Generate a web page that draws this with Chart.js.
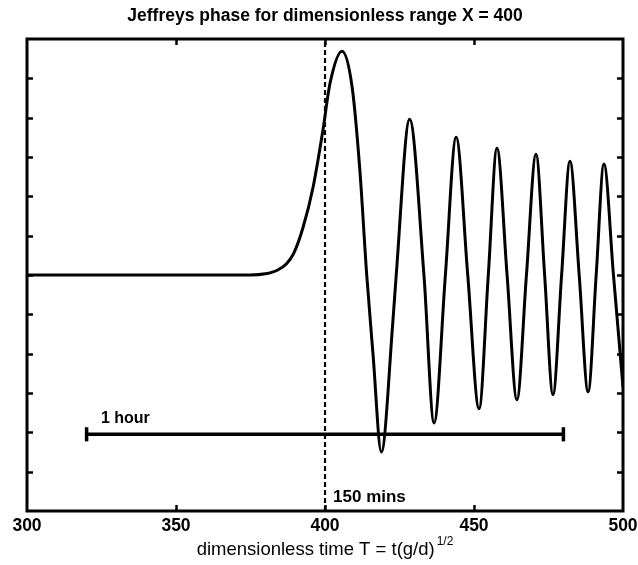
<!DOCTYPE html>
<html>
<head>
<meta charset="utf-8">
<script src="https://cdn.jsdelivr.net/npm/chart.js@4/dist/chart.umd.min.js"></script>
<style>
html,body{margin:0;padding:0;background:#fff;}
#c{display:block;}
</style>
</head>
<body>
<canvas id="c" width="638" height="565"></canvas>
<script>
// ---- data ----
const titleText = "Jeffreys phase for dimensionless range X = 400";
const xAxisText = "dimensionless time T = t(g/d)";
const xAxisSup = "1/2";
const xTickLabels = [300, 350, 400, 450, 500];
const yTickValues = [-5, -4, -3, -2, -1, 0, 1, 2, 3, 4, 5];
const innerXTicks = [350, 400, 450];

// dimensionless time T and phase (arbitrary units, tick spacing = 1)
const timeT = [300, 375, 380, 384, 387, 389.5, 392.6, 396, 399.3, 401.7, 405.7, 409.1, 411.7, 414.0,
  416.1, 418.9, 422.8, 423.9, 428.4, 433.2, 436.6, 440.4, 444.0, 447.9, 451.7,
  454.8, 457.7, 461.1, 464.4, 467.6, 470.8, 473.7, 476.5, 479.4, 482.2, 485.3, 488.3, 491.0,
  493.6, 496.8, 500];
const phase = [0, 0, 0.03, 0.12, 0.28, 0.55, 1.2, 2.23, 3.68, 4.88, 5.69, 4.78, 2.66, 0,
  -2.0, -4.5, -1.16, 0, 3.96, 0, -3.76, 0, 3.5, 0, -3.4,
  0, 3.22, 0, -3.17, 0, 3.07, 0, -3.04, 0, 2.89, 0, -2.97, 0,
  2.82, 0, -2.85];

const markerT = 400;              // dashed line: 150 mins
const hourStartT = 320;           // one-hour scale bar
const hourEndT = 480;
const hourY = -4.05;
const capHalf = 0.18;
const hourLabel = "1 hour";
const hourLabelPos = [324.8, -3.66];
const minsLabel = "150 mins";
const minsLabelPos = [402.7, -5.64];

const FONT = "'Liberation Sans', Arial, Helvetica, sans-serif";

const curve = timeT.map((t, i) => ({x: t, y: phase[i]}));

const decor = {
  id: 'decor',
  afterDatasetsDraw(chart) {
    const ctx = chart.ctx;
    const a = chart.chartArea;
    const xs = chart.scales.x, ys = chart.scales.y;
    ctx.save();
    // frame
    ctx.strokeStyle = '#000';
    ctx.lineWidth = 3;
    ctx.strokeRect(a.left, a.top, a.right - a.left, a.bottom - a.top);
    // inner ticks
    ctx.lineWidth = 2.5;
    ctx.beginPath();
    yTickValues.forEach(v => {
      const py = Math.round(ys.getPixelForValue(v)) + 0.5;
      ctx.moveTo(a.left, py); ctx.lineTo(a.left + 6, py);
      ctx.moveTo(a.right, py); ctx.lineTo(a.right - 6, py);
    });
    innerXTicks.forEach(v => {
      const px = Math.round(xs.getPixelForValue(v)) + 0.5;
      ctx.moveTo(px, a.top); ctx.lineTo(px, a.top + 6);
      ctx.moveTo(px, a.bottom); ctx.lineTo(px, a.bottom - 6);
    });
    ctx.stroke();
    // annotations
    ctx.fillStyle = '#000';
    ctx.textBaseline = 'middle';
    ctx.textAlign = 'left';
    ctx.font = 'bold 16px ' + FONT;
    ctx.fillText(hourLabel, xs.getPixelForValue(hourLabelPos[0]), ys.getPixelForValue(hourLabelPos[1]));
    ctx.font = 'bold 17px ' + FONT;
    ctx.fillText(minsLabel, xs.getPixelForValue(minsLabelPos[0]), ys.getPixelForValue(minsLabelPos[1]));
    // x-axis title with superscript
    ctx.font = '18.5px ' + FONT;
    const w1 = ctx.measureText(xAxisText).width;
    ctx.font = '12px ' + FONT;
    const w2 = ctx.measureText(xAxisSup).width;
    const cx = (a.left + a.right) / 2;
    const x0 = cx - (w1 + 2 + w2) / 2;
    const yb = 555;
    ctx.textBaseline = 'alphabetic';
    ctx.font = '18.5px ' + FONT;
    ctx.fillText(xAxisText, x0, yb);
    ctx.font = '12px ' + FONT;
    ctx.fillText(xAxisSup, x0 + w1 + 2, yb - 10);
    ctx.restore();
  }
};

new Chart(document.getElementById('c'), {
  type: 'line',
  data: {
    datasets: [
      {
        data: curve,
        borderColor: '#000',
        borderWidth: 3,
        pointRadius: 0,
        cubicInterpolationMode: 'monotone',
        fill: false,
        order: 1
      },
      {
        data: [{x: markerT, y: -6}, {x: markerT, y: 6}],
        borderColor: '#000',
        borderWidth: 2.2,
        borderDash: [5, 3],
        pointRadius: 0,
        fill: false,
        order: 2
      },
      {
        data: [{x: hourStartT, y: hourY}, {x: hourEndT, y: hourY}],
        borderColor: '#000',
        borderWidth: 3.5,
        pointRadius: 0,
        fill: false,
        order: 3
      },
      {
        data: [{x: hourStartT, y: hourY - capHalf}, {x: hourStartT, y: hourY + capHalf}],
        borderColor: '#000',
        borderWidth: 3.5,
        pointRadius: 0,
        fill: false
      },
      {
        data: [{x: hourEndT, y: hourY - capHalf}, {x: hourEndT, y: hourY + capHalf}],
        borderColor: '#000',
        borderWidth: 3.5,
        pointRadius: 0,
        fill: false
      }
    ]
  },
  options: {
    responsive: false,
    animation: false,
    devicePixelRatio: 1,
    layout: { padding: { left: 27, right: 15, top: 0, bottom: 23 } },
    plugins: {
      legend: { display: false },
      tooltip: { enabled: false },
      title: {
        display: true,
        text: titleText,
        color: '#000',
        font: { family: FONT, size: 17.5, weight: 'bold' },
        padding: { top: 6, bottom: 12 }
      }
    },
    scales: {
      x: {
        type: 'linear',
        min: 300,
        max: 500,
        grid: { display: false, drawTicks: false },
        border: { display: false },
        afterBuildTicks: (s) => { s.ticks = xTickLabels.map(v => ({value: v})); },
        afterFit: (s) => { s.paddingLeft = 0; s.paddingRight = 0; },
        ticks: {
          color: '#000',
          padding: 5,
          maxRotation: 0,
          autoSkip: false,
          font: { family: FONT, size: 17.5, weight: 'bold' },
          callback: (v) => String(v)
        }
      },
      y: {
        display: false,
        min: -6,
        max: 6
      }
    }
  },
  plugins: [decor]
});
</script>
</body>
</html>
